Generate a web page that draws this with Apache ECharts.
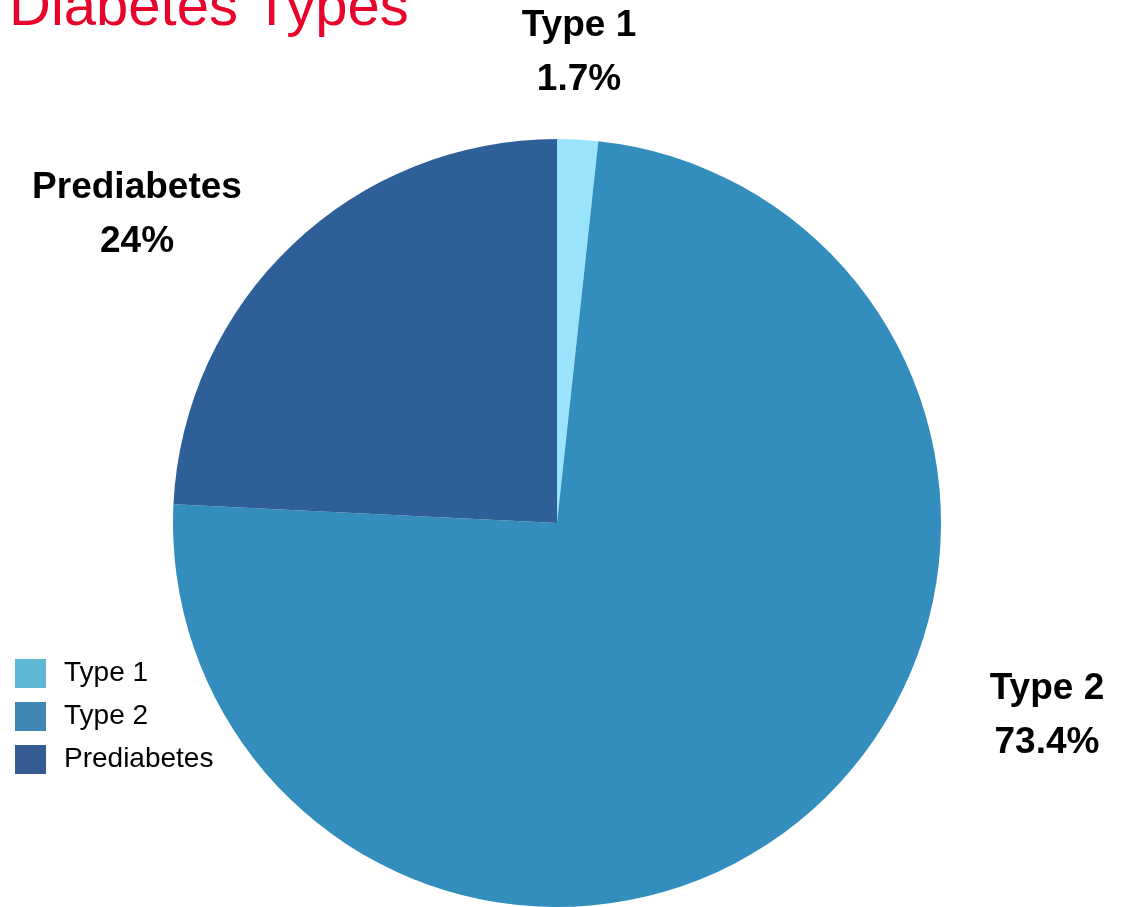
<!DOCTYPE html>
<html>
<head>
<meta charset="utf-8">
<title>Diabetes Types</title>
<script src="https://cdn.jsdelivr.net/npm/echarts@6/dist/echarts.min.js"></script>
<style>
  html, body { margin: 0; padding: 0; background: #ffffff; }
  #chart { width: 1132px; height: 907px; }
</style>
</head>
<body>
<div id="chart"></div>
<script>
// Share of diabetes cases by type (percent)
const categories = ['Type 1', 'Type 2', 'Prediabetes'];
const shares = [1.7, 73.4, 24];

// Slice fills and the slightly muted legend swatches
const sliceColors = ['#99e4fb', '#338dbd', '#2f5f98'];
const legendColors = ['#5eb7d3', '#3f88b5', '#355c92'];

// Label anchor points (centre of each two-line label)
const labelAnchors = [[579, 53], [1047, 716], [137, 215]];

const FONT = "'Liberation Sans', Arial, Helvetica, sans-serif";

const chart = echarts.init(document.getElementById('chart'), null, { renderer: 'canvas' });

chart.setOption({
  backgroundColor: '#ffffff',
  animation: false,
  title: {
    text: 'Diabetes Types',
    left: 9,
    top: -20,
    padding: 0,
    textStyle: {
      fontFamily: FONT,
      fontSize: 58,
      fontWeight: 'normal',
      color: '#e8032c'
    }
  },
  legend: {
    orient: 'vertical',
    left: 15,
    top: 659,
    padding: 0,
    itemWidth: 31,
    itemHeight: 29,
    itemGap: 14,
    icon: 'rect',
    selectedMode: false,
    data: categories.map((name, i) => ({ name, itemStyle: { color: legendColors[i] } })),
    textStyle: {
      fontFamily: FONT,
      fontSize: 28,
      color: '#000000',
      padding: [0, 0, 0, 13]
    }
  },
  series: [{
    type: 'pie',
    center: [557, 523],
    radius: 384,
    startAngle: 90,
    clockwise: true,
    silent: true,
    data: categories.map((name, i) => ({
      name,
      value: shares[i],
      itemStyle: { color: sliceColors[i] }
    })),
    label: {
      show: true,
      position: 'outside',
      formatter: '{b}\n{c}%',
      fontFamily: FONT,
      fontSize: 37,
      fontWeight: 'bold',
      lineHeight: 54,
      color: '#000000',
      align: 'center',
      verticalAlign: 'middle'
    },
    labelLine: { show: false },
    labelLayout: function (params) {
      const p = labelAnchors[params.dataIndex];
      return { x: p[0], y: p[1], align: 'center', verticalAlign: 'middle' };
    }
  }]
});
</script>
</body>
</html>
